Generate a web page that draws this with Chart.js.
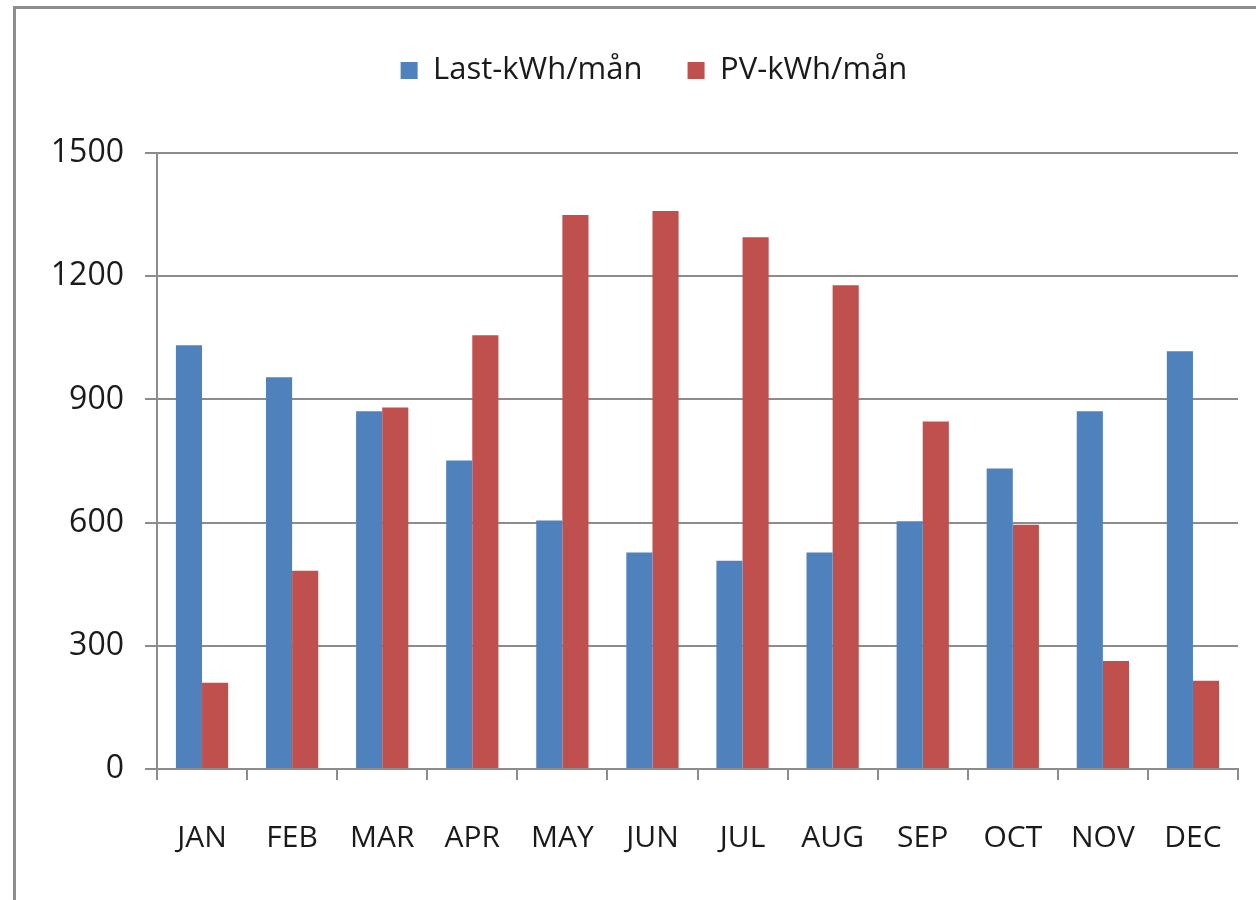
<!DOCTYPE html>
<html>
<head>
<meta charset="utf-8">
<script src="https://cdn.jsdelivr.net/npm/chart.js@4.4.0/dist/chart.umd.min.js"></script>
<style>
  html, body { margin: 0; padding: 0; background: #fff; overflow: hidden; }
  #frame {
    position: absolute; left: 13px; top: 6px; width: 1400px; height: 1000px;
    border-left: 3px solid #8d8d8d; border-top: 3px solid #8d8d8d;
  }
  #wrap { position: absolute; left: 0; top: 0; width: 1256px; height: 900px; }
</style>
</head>
<body>
<div id="frame"></div>
<div id="wrap"><canvas id="energyChart" width="1256" height="900"></canvas></div>
<script>
// Data
const months = ["JAN", "FEB", "MAR", "APR", "MAY", "JUN", "JUL", "AUG", "SEP", "OCT", "NOV", "DEC"];
const lastKwh = [1032, 954, 871, 751, 605, 527, 507, 527, 603, 732, 871, 1017];
const pvKwh = [210, 483, 880, 1056, 1349, 1359, 1295, 1178, 846, 595, 263, 215];
const yTicks = [0, 300, 600, 900, 1200, 1500];

const gridGray = "#8c8c8c";
const textColor = "#1a1a1a";
const fontFamily = "'Open Sans', 'Noto Sans', sans-serif";

// extra room under the legend, and nudge it right like the original
const legendSpace = {
  id: "legendSpace",
  afterInit(chart) {
    const lg = chart.legend;
    const origFit = lg.fit;
    lg.fit = function () {
      origFit.call(this);
      this.height += 57;
    };
  },
  afterLayout(chart) {
    chart.legend.left += 35;
    chart.legend.right += 35;
  }
};

let ctx = document.getElementById("energyChart").getContext("2d");
let energyChart = new Chart(ctx, {
  type: "bar",
  data: {
    labels: months,
    datasets: [
      { label: "Last-kWh/mån", data: lastKwh, backgroundColor: "#4f81bd", barPercentage: 1, categoryPercentage: 0.58 },
      { label: "PV-kWh/mån", data: pvKwh, backgroundColor: "#c0504d", barPercentage: 1, categoryPercentage: 0.58 }
    ]
  },
  options: {
    responsive: false,
    animation: false,
    layout: { padding: { top: 10, right: 18, left: 0, bottom: 0 } },
    plugins: {
      tooltip: { enabled: false },
      legend: {
        position: "top",
        labels: {
          boxWidth: 17,
          boxHeight: 17,
          padding: 45,
          color: textColor,
          font: { family: fontFamily, size: 31 }
        }
      }
    },
    scales: {
      x: {
        grid: { display: true, drawOnChartArea: false, drawTicks: true, tickLength: 11, color: gridGray, lineWidth: 2, offset: true },
        border: { display: true, color: gridGray, width: 2 },
        ticks: { color: textColor, padding: 40, font: { family: fontFamily, size: 30 }, maxRotation: 0 },
        afterFit: (axis) => {
          axis.height = 131;
          axis.paddingLeft = 0;
          axis.paddingRight = 0;
        }
      },
      y: {
        min: 0,
        max: 1500,
        afterBuildTicks: (axis) => { axis.ticks = yTicks.map(v => ({ value: v })); },
        grid: { color: gridGray, lineWidth: 2, tickLength: 12, drawTicks: true },
        border: { display: true, color: gridGray, width: 2 },
        ticks: { color: textColor, padding: 21, font: { family: fontFamily, size: 32 }, callback: (v) => String(v) },
        afterFit: (axis) => { axis.width = 157; }
      }
    }
  },
  plugins: [legendSpace]
});
</script>
</body>
</html>
